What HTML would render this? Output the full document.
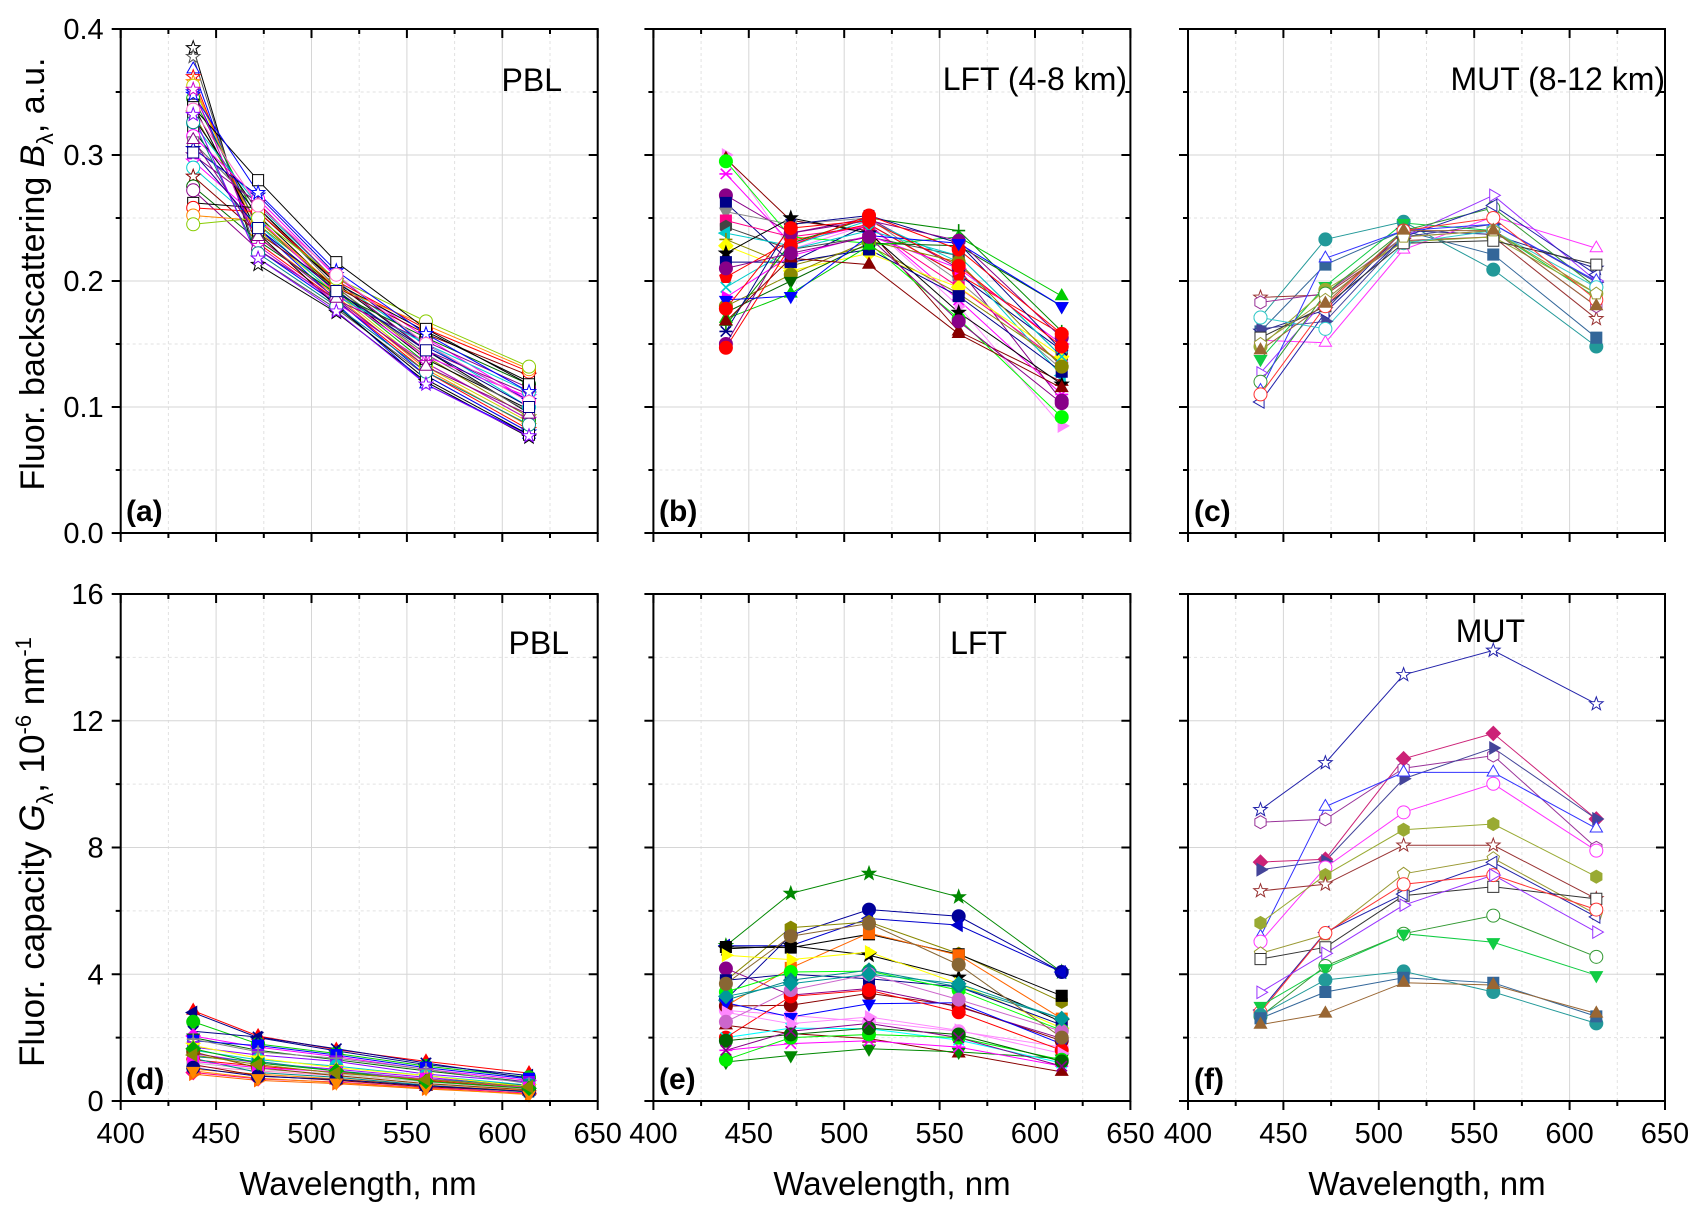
<!DOCTYPE html>
<html><head><meta charset="utf-8"><title>Fluorescence spectra panels</title>
<style>
html,body{margin:0;padding:0;background:#fff;}
svg{display:block;font-family:"Liberation Sans",Arial,sans-serif;}
</style></head>
<body>
<svg id="fig" width="1708" height="1219" viewBox="0 0 1708 1219" xmlns="http://www.w3.org/2000/svg">
<rect x="0" y="0" width="1708" height="1219" fill="#fff"/>
<g id="layer"></g>
<text transform="translate(44,274) rotate(-90)" text-anchor="middle" font-size="34" fill="#000">Fluor. backscattering <tspan font-style="italic">B</tspan><tspan font-size="23" dy="9">λ</tspan><tspan dy="-9">, a.u.</tspan></text>
<text transform="translate(44,852) rotate(-90)" text-anchor="middle" font-size="35" fill="#000">Fluor. capacity <tspan font-style="italic">G</tspan><tspan font-size="23" dy="9">λ</tspan><tspan dy="-9">, 10</tspan><tspan font-size="22" dy="-13">-6</tspan><tspan dy="13"> nm</tspan><tspan font-size="22" dy="-13">-1</tspan></text>
<text x="358" y="1195" text-anchor="middle" font-size="33">Wavelength, nm</text>
<text x="892" y="1195" text-anchor="middle" font-size="33">Wavelength, nm</text>
<text x="1427" y="1195" text-anchor="middle" font-size="33">Wavelength, nm</text>
<text x="562" y="91" text-anchor="end" font-size="32">PBL</text>
<text x="1127" y="90" text-anchor="end" font-size="32">LFT (4-8 km)</text>
<text x="1665" y="90" text-anchor="end" font-size="32">MUT (8-12 km)</text>
<text x="569" y="654" text-anchor="end" font-size="32">PBL</text>
<text x="1007" y="654" text-anchor="end" font-size="32">LFT</text>
<text x="1525" y="642" text-anchor="end" font-size="32">MUT</text>
<text x="126" y="521" font-size="30" font-weight="bold">(a)</text>
<text x="659" y="521" font-size="30" font-weight="bold">(b)</text>
<text x="1194" y="521" font-size="30" font-weight="bold">(c)</text>
<text x="126" y="1089" font-size="30" font-weight="bold">(d)</text>
<text x="659" y="1089" font-size="30" font-weight="bold">(e)</text>
<text x="1194" y="1089" font-size="30" font-weight="bold">(f)</text>
</svg>
<script>
// ---------- data ----------
const wavelengths = [438, 472, 513, 560, 614];
const xTickLabels = ["400","450","500","550","600","650"];
const topYTickLabels = ["0.0","0.1","0.2","0.3","0.4"];
const bottomYTickLabels = ["0","4","8","12","16"];

const panelAValues = [
[0.385,0.213,0.175,0.120,0.076],[0.378,0.218,0.178,0.125,0.080],[0.368,0.225,0.182,0.118,0.078],
[0.362,0.230,0.185,0.128,0.082],[0.358,0.235,0.188,0.130,0.085],[0.355,0.240,0.190,0.132,0.088],
[0.350,0.242,0.185,0.125,0.080],[0.345,0.248,0.192,0.135,0.090],[0.340,0.238,0.180,0.122,0.078],
[0.333,0.245,0.195,0.140,0.092],[0.330,0.255,0.198,0.145,0.095],[0.325,0.260,0.200,0.150,0.100],
[0.320,0.252,0.193,0.138,0.098],[0.315,0.265,0.203,0.155,0.105],[0.310,0.258,0.195,0.142,0.096],
[0.305,0.268,0.205,0.148,0.105],[0.300,0.262,0.200,0.145,0.110],[0.295,0.250,0.190,0.140,0.108],
[0.290,0.245,0.188,0.150,0.112],[0.283,0.238,0.195,0.158,0.125],[0.275,0.232,0.190,0.155,0.118],
[0.272,0.225,0.185,0.152,0.115],[0.262,0.258,0.198,0.160,0.120],[0.258,0.255,0.200,0.162,0.128],
[0.252,0.248,0.195,0.165,0.130],[0.245,0.250,0.202,0.168,0.132],[0.338,0.280,0.215,0.162,0.118],
[0.348,0.270,0.208,0.158,0.112],[0.336,0.260,0.205,0.150,0.104],[0.352,0.228,0.183,0.135,0.090],
[0.326,0.222,0.180,0.128,0.086],[0.312,0.235,0.186,0.132,0.094],[0.302,0.242,0.192,0.145,0.100],
[0.332,0.218,0.176,0.118,0.077]];
const panelAMarkers = ["star","star","tri","star","star","circle","star","circle","square","star","square","circle","square","circle","square","star","star","star","circle","star","circle","circle","square","circle","circle","circle","square","star","circle","star","circle","tri","square","star"];
const panelAColors = ["#000","#555","#00f","#f00","#f80","#cc0","#00f","#0a0","#000","#880","#000","#0cc","#000","#f0f","#666","#00c","#808","#f0f","#0cc","#800","#060","#808","#000","#f00","#f80","#8c0","#000","#00f","#f6c","#c0c","#088","#808","#008","#80f"];
const panelAFilled = [false];

const panelBValues = [
[0.300,0.225,0.245,0.180,0.085],[0.297,0.248,0.240,0.160,0.120],[0.295,0.235,0.230,0.170,0.092],
[0.285,0.230,0.245,0.185,0.110],[0.268,0.238,0.250,0.210,0.105],[0.262,0.215,0.245,0.205,0.145],
[0.255,0.245,0.250,0.200,0.130],[0.248,0.235,0.243,0.195,0.135],[0.243,0.225,0.235,0.220,0.140],
[0.238,0.228,0.248,0.215,0.125],[0.233,0.212,0.228,0.190,0.135],[0.228,0.208,0.222,0.195,0.140],
[0.222,0.250,0.238,0.175,0.118],[0.215,0.215,0.225,0.188,0.128],[0.203,0.232,0.245,0.205,0.158],
[0.195,0.225,0.240,0.220,0.140],[0.187,0.220,0.236,0.210,0.150],[0.180,0.205,0.232,0.215,0.132],
[0.175,0.200,0.230,0.228,0.180],[0.170,0.190,0.228,0.235,0.188],[0.165,0.230,0.250,0.240,0.160],
[0.160,0.245,0.252,0.230,0.145],[0.150,0.238,0.248,0.232,0.155],[0.147,0.228,0.252,0.225,0.158],
[0.185,0.188,0.236,0.230,0.180],[0.168,0.218,0.213,0.158,0.115],[0.210,0.222,0.235,0.168,0.103],
[0.178,0.242,0.248,0.212,0.148]];
const panelBMarkers = ["triR","tri","circle","asterisk","circle","square","triD","square","hexagon","triL","plus","diamond","star","square","pentagon","x","triR","circle","triD","tri","plus","asterisk","circle","circle","triD","tri","circle","circle"];
const panelBColors = ["#f8f","#800","#0f0","#f0f","#808","#008","#888","#f08","#444","#0cc","#880","#ff0","#000","#008","#f00","#0cc","#f0f","#880","#060","#0c0","#080","#008","#808","#f00","#00f","#800","#808","#f00"];

const panelCValues = [
[0.171,0.233,0.247,0.209,0.148],[0.160,0.213,0.240,0.221,0.155],[0.187,0.189,0.232,0.235,0.170],
[0.183,0.190,0.235,0.240,0.180],[0.160,0.177,0.240,0.237,0.210],[0.162,0.168,0.235,0.245,0.199],
[0.153,0.151,0.225,0.251,0.226],[0.138,0.196,0.246,0.240,0.187],[0.148,0.193,0.231,0.235,0.190],
[0.127,0.185,0.235,0.268,0.200],[0.120,0.190,0.240,0.258,0.195],[0.104,0.175,0.235,0.260,0.205],
[0.113,0.218,0.240,0.245,0.200],[0.171,0.162,0.230,0.240,0.195],[0.155,0.180,0.230,0.232,0.213],
[0.110,0.180,0.240,0.250,0.185],[0.150,0.185,0.235,0.240,0.190],[0.145,0.182,0.240,0.240,0.180]];
const panelCMarkers = ["circle","square","star","hexagon","star","triR","tri","triD","circle","triR","circle","triL","tri","circle","square","circle","pentagon","tri"];
const panelCColors = ["#299","#369","#933","#939","#228","#449","#f3f","#1c4","#9a3","#93f","#393","#22a","#33f","#3cc","#333","#f33","#993","#963"];
const panelCFilled = [true,true,false,false,false,true,false,true,true,false,false,false,false,false,false,false,false,true];

const panelDValues = [
[2.85,2.05,1.62,1.25,0.88],[2.79,2.0,1.58,1.15,0.8],[2.5,1.8,1.5,1.1,0.75],[2.2,2.02,1.65,1.2,0.72],
[2.05,1.7,1.4,1.0,0.65],[2.0,1.6,1.3,0.95,0.6],[1.9,1.75,1.45,1.05,0.7],[1.8,1.5,1.2,0.9,0.55],
[1.7,1.45,1.25,0.85,0.6],[1.6,1.3,1.1,0.8,0.5],[1.5,1.2,1.0,0.75,0.45],[1.4,1.25,0.95,0.7,0.5],
[1.3,1.1,0.9,0.65,0.4],[1.2,1.0,0.85,0.6,0.38],[1.1,0.95,0.8,0.55,0.35],[1.0,0.85,0.7,0.5,0.32],
[0.9,0.7,0.6,0.42,0.25],[0.85,0.65,0.55,0.38,0.22],[1.15,0.8,0.65,0.45,0.3],[1.35,0.9,0.75,0.5,0.28],
[1.55,1.05,0.8,0.55,0.35],[1.75,1.35,1.05,0.8,0.45],[1.95,1.55,1.35,1.0,0.55],[1.25,1.05,0.92,0.7,0.42],
[1.05,0.78,0.68,0.48,0.3],[0.95,0.72,0.58,0.4,0.2],[1.65,1.2,0.95,0.62,0.4],[1.45,1.15,0.88,0.68,0.45]];
const panelDMarkers = ["tri","triL","circle","x","diamond","triD","square","pentagon","square","circle","pentagon","square","circle","circle","tri","triR","diamond","triR","tri","x","circle","star","plus","square","circle","triD","diamond","triL"];
const panelDColors = ["#f00","#008","#0c0","#008","#f0f","#060","#00f","#fff","#80f","#0cc","#a0f","#088","#f00","#bbb","#f8c","#f80","#f08","#f60","#800","#088","#840","#ff0","#888","#f0f","#008","#f80","#0a0","#880"];

const panelEValues = [
[4.9,6.55,7.18,6.44,4.07],[3.2,5.23,6.04,5.83,4.07],[4.9,4.9,5.76,5.55,4.07],[3.8,5.47,5.65,4.65,3.13],
[4.86,4.84,5.26,4.63,3.32],[3.0,4.2,5.3,4.6,2.6],[4.8,4.9,4.6,3.9,2.5],[4.6,4.46,4.7,3.7,2.3],
[4.18,3.34,3.55,2.97,1.97],[3.81,4.0,3.86,3.6,2.4],[3.44,4.07,4.1,3.5,2.23],[3.18,3.81,4.13,3.6,2.6],
[2.86,2.7,2.5,2.2,1.7],[3.0,3.02,3.4,3.0,1.9],[3.1,2.65,3.07,3.1,1.8],[2.0,3.3,3.5,2.8,1.6],
[2.39,2.13,1.97,1.5,0.92],[1.23,1.44,1.65,1.55,1.34],[1.6,1.81,1.9,1.7,1.1],[2.0,2.3,2.28,1.92,1.2],
[2.8,2.44,2.65,2.23,1.5],[1.3,2.0,2.1,2.0,1.3],[1.9,2.1,2.3,2.1,1.25],[1.6,2.2,2.45,2.0,1.1],
[2.5,3.5,4.0,3.2,2.2],[3.3,3.7,4.0,3.7,2.6],[3.7,5.2,5.6,4.3,2.0]];
const panelEMarkers = ["star","circle","triL","hexagon","square","square","star","triR","circle","square","circle","diamond","circle","circle","triD","circle","tri","triD","asterisk","x","triR","circle","circle","x","circle","diamond","circle"];
const panelEColors = ["#080","#009","#00c","#880","#000","#f60","#000","#ff0","#808","#008","#0f0","#088","#f8f","#800","#00f","#f00","#800","#080","#f0f","#0ff","#f8f","#0e0","#060","#808","#c6c","#099","#863"];

const panelFValues = [
[9.19,10.67,13.45,14.22,12.53],[8.8,8.89,10.5,10.9,7.99],[7.54,7.63,10.8,11.6,8.9],[7.3,7.57,10.17,11.14,8.9],
[5.19,9.29,10.37,10.37,8.6],[5.03,7.37,9.11,10.01,7.9],[5.62,7.13,8.56,8.74,7.08],[6.63,6.84,8.07,8.07,6.38],
[4.66,5.25,7.17,7.66,5.89],[4.48,4.85,6.48,6.76,6.38],[2.87,5.32,6.53,7.53,5.81],[2.8,5.3,6.84,7.13,6.04],
[3.43,4.66,6.18,7.13,5.33],[2.67,4.26,5.28,5.85,4.55],[3.0,4.19,5.28,5.01,3.97],[2.71,3.82,4.09,3.44,2.45],
[2.61,3.44,3.89,3.73,2.67],[2.41,2.76,3.73,3.66,2.76]];
const panelFMarkers = ["star","hexagon","diamond","triR","tri","circle","hexagon","star","pentagon","square","triL","circle","triR","circle","triD","circle","square","tri"];
const panelFColors = ["#22a","#939","#c27","#449","#33f","#f3f","#9a3","#933","#993","#333","#22a","#f33","#93f","#393","#1c4","#299","#369","#963"];
const panelFFilled = [false,false,true,true,false,false,true,false,false,false,false,false,false,false,true,true,true,true];

// ---------- layout ----------
const NS = "http://www.w3.org/2000/svg";
const layer = document.getElementById("layer");
const colX = [120.7, 653.4, 1188];
const panelW = 477;
const rowTop = [{top:29,bottom:533,max:0.4,labels:topYTickLabels,major:0.1},{top:594,bottom:1101,max:16,labels:bottomYTickLabels,major:4}];

function el(tag, attrs, parent){
  const e = document.createElementNS(NS, tag);
  for (const k in attrs) e.setAttribute(k, attrs[k]);
  (parent||layer).appendChild(e);
  return e;
}

function markerPath(type, cx, cy, r){
  const pts = (n, rot, rr) => { let s=""; for(let i=0;i<n;i++){const a=rot+i*2*Math.PI/n; s+=(i?"L":"M")+(cx+rr*Math.cos(a)).toFixed(2)+","+(cy+rr*Math.sin(a)).toFixed(2);} return s+"Z"; };
  switch(type){
    case "square": {const h=r*0.85; return `M${cx-h},${cy-h}H${cx+h}V${cy+h}H${cx-h}Z`;}
    case "circle": return `M${cx-r},${cy}A${r},${r} 0 1,0 ${cx+r},${cy}A${r},${r} 0 1,0 ${cx-r},${cy}Z`;
    case "tri": return pts(3,-Math.PI/2,r*1.1);
    case "triD": return pts(3,Math.PI/2,r*1.1);
    case "triL": return pts(3,Math.PI,r*1.1);
    case "triR": return pts(3,0,r*1.1);
    case "diamond": return pts(4,-Math.PI/2,r*1.1);
    case "hexagon": return pts(6,-Math.PI/2,r);
    case "pentagon": return pts(5,-Math.PI/2,r);
    case "star": {let s=""; for(let i=0;i<10;i++){const a=-Math.PI/2+i*Math.PI/5; const rr=i%2?r*0.45:r*1.1; s+=(i?"L":"M")+(cx+rr*Math.cos(a)).toFixed(2)+","+(cy+rr*Math.sin(a)).toFixed(2);} return s+"Z";}
    case "plus": return `M${cx-r},${cy}H${cx+r}M${cx},${cy-r}V${cy+r}`;
    case "x": {const h=r*0.8; return `M${cx-h},${cy-h}L${cx+h},${cy+h}M${cx-h},${cy+h}L${cx+h},${cy-h}`;}
    case "asterisk": {const h=r*0.8; return `M${cx-r},${cy}H${cx+r}M${cx-h},${cy-h}L${cx+h},${cy+h}M${cx-h},${cy+h}L${cx+h},${cy-h}`;}
  }
  return "";
}

function drawPanel(id, col, row, values, markers, colors, filled, r, showX, showY){
  const x0 = colX[col], x1 = x0 + panelW;
  const R = rowTop[row];
  const xs = v => x0 + (v-400)/250*panelW;
  const ys = v => R.bottom - v/R.max*(R.bottom-R.top);
  const g = el("g", {});
  
  
  for (let w=425; w<650; w+=25){
    const major = (w%50===0);
    const gl = el("line",{x1:xs(w),x2:xs(w),y1:R.top,y2:R.bottom,stroke:major?"#d6d6d6":"#e2e2e2","stroke-width":1,"stroke-dasharray":major?"none":"3,3"},g);
    
    
  }
  for (let i=1;i<8;i++){
    const v = R.max*i/8, major = (i%2===0);
    const gl = el("line",{x1:x0,x2:x1,y1:ys(v),y2:ys(v),stroke:major?"#d6d6d6":"#e2e2e2","stroke-width":1,"stroke-dasharray":major?"none":"3,3"},g);
    
    
  }
  values.forEach((vals, si) => {
    const d = vals.map((v,i)=>(i?"L":"M")+xs(wavelengths[i]).toFixed(2)+","+ys(v).toFixed(2)).join("");
    const ln = el("path",{d:d,fill:"none",stroke:colors[si%colors.length],"stroke-width":1},g);
    
    
  });
  values.forEach((vals, si) => {
    const c = colors[si%colors.length];
    const t = markers[si%markers.length];
    const f = filled.length>1 ? filled[si] : filled[0];
    const lineOnly = (t==="plus"||t==="x"||t==="asterisk");
    vals.forEach((v,i) => {
      const m = el("path",{d:markerPath(t, xs(wavelengths[i]), ys(v), r),
        fill: lineOnly?"none":(f?c:"#fff"), stroke: (f && c==="#fff")?"#999":c, "stroke-width": lineOnly?1.6:1},g);
      
      
    });
  });
  const fr = el("rect",{x:x0,y:R.top,width:panelW,height:R.bottom-R.top,fill:"none",stroke:"#000","stroke-width":2},g);
  
  
  for (let w=400; w<=650; w+=25){
    const major = (w%50===0), L = major?9:5;
    const t1 = el("line",{x1:xs(w),x2:xs(w),y1:R.bottom,y2:R.bottom+L,stroke:"#000","stroke-width":2},g);
    
    
    const t2 = el("line",{x1:xs(w),x2:xs(w),y1:R.top,y2:R.top+L,stroke:"#000","stroke-width":2},g);
    
    
  }
  if (showX){
    xTickLabels.forEach((lab,i)=>{
      const tx = el("text",{x:xs(400+50*i),y:1143,"text-anchor":"middle","font-size":29},g);
      tx.textContent = lab;
      
      
    });
  }
  for (let i=0;i<=8;i++){
    const v = R.max*i/8, major=(i%2===0), L = major?9:5;
    const t1 = el("line",{x1:x0-L,x2:x0,y1:ys(v),y2:ys(v),stroke:"#000","stroke-width":2},g);
    
    
    const t2 = el("line",{x1:x1-L,x2:x1,y1:ys(v),y2:ys(v),stroke:"#000","stroke-width":2},g);
    
    
  }
  if (showY){
    R.labels.forEach((lab,i)=>{
      const tx = el("text",{x:x0-17,y:ys(R.major*i)+10,"text-anchor":"end","font-size":29},g);
      tx.textContent = lab;
      
      
    });
  }
}

drawPanel("a",0,0,panelAValues,panelAMarkers,panelAColors,panelAFilled,6.5,false,true);
drawPanel("b",1,0,panelBValues,panelBMarkers,panelBColors,[true],6.5,false,false);
drawPanel("c",2,0,panelCValues,panelCMarkers,panelCColors,panelCFilled,6.5,false,false);
drawPanel("d",0,1,panelDValues,panelDMarkers,panelDColors,[true],6.5,true,true);
drawPanel("e",1,1,panelEValues,panelEMarkers,panelEColors,[true],6.5,true,false);
drawPanel("f",2,1,panelFValues,panelFMarkers,panelFColors,panelFFilled,6.5,true,false);
</script>
</body></html>
